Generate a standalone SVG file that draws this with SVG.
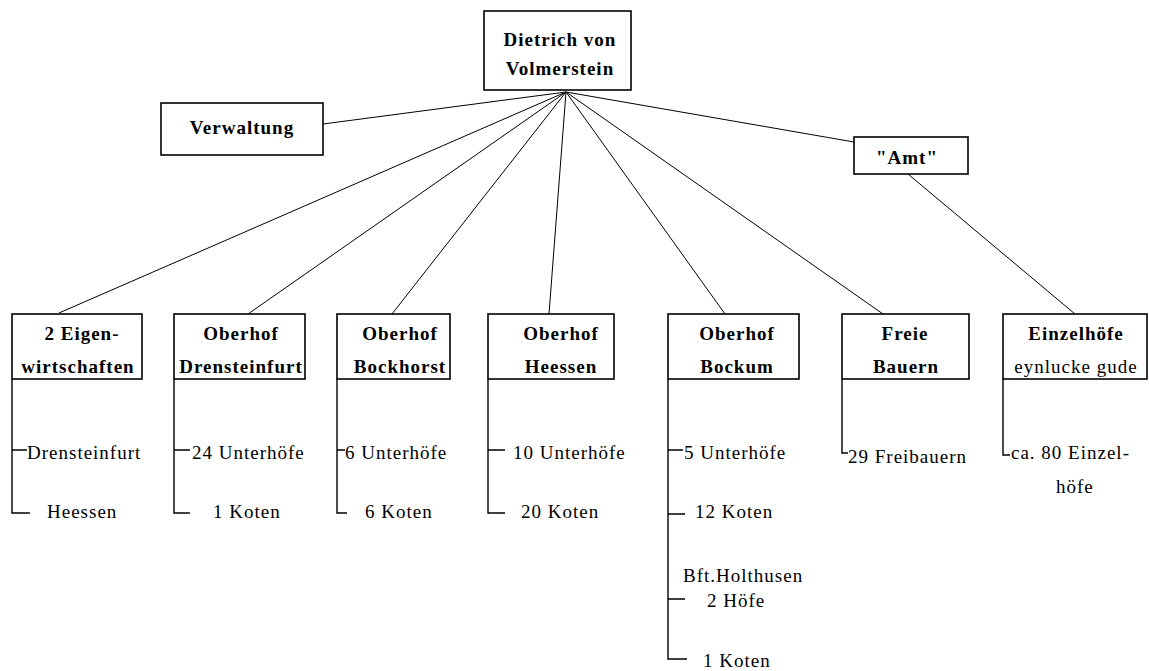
<svg xmlns="http://www.w3.org/2000/svg" width="1149" height="671" viewBox="0 0 1149 671">
<style>
text{font-family:"Liberation Serif","Times New Roman",serif;font-size:19px;letter-spacing:1px;fill:#000}
.b{font-weight:bold}
.c{text-anchor:middle}
.box{fill:#fff;stroke:#000;stroke-width:1.6}
.ln{stroke:#000;stroke-width:1;fill:none}
.br{stroke:#000;stroke-width:1.4;fill:none}
</style>
<rect width="1149" height="671" fill="#fff"/>
<g id="connectors">
<line class="ln" x1="566" y1="92" x2="323" y2="124"/>
<line class="ln" x1="566" y1="92" x2="854" y2="142"/>
<line class="ln" x1="566" y1="92" x2="59" y2="313"/>
<line class="ln" x1="566" y1="92" x2="248" y2="314"/>
<line class="ln" x1="566" y1="92" x2="392" y2="314"/>
<line class="ln" x1="566" y1="92" x2="549" y2="314"/>
<line class="ln" x1="566" y1="92" x2="725" y2="314"/>
<line class="ln" x1="566" y1="92" x2="883" y2="314"/>
<line class="ln" x1="908" y1="174" x2="1075" y2="314"/>
</g>
<g id="top">
<rect class="box" x="484" y="11" width="147" height="79"/>
<text class="b c" x="560" y="46">Dietrich von</text>
<text class="b c" x="560" y="75">Volmerstein</text>
</g>
<g id="verwaltung">
<rect class="box" x="161" y="103" width="162" height="52"/>
<text class="b c" x="242" y="134">Verwaltung</text>
</g>
<g id="amt">
<rect class="box" x="854" y="137" width="114" height="37"/>
<text class="b c" x="907" y="164">"Amt"</text>
</g>
<g id="eigen">
<rect class="box" x="12" y="314" width="130" height="65"/>
<text class="b c" x="82" y="340">2 Eigen-</text>
<text class="b c" x="78" y="373">wirtschaften</text>
<path class="br" d="M12 379V513H30M12 450H27"/>
<text x="27" y="459">Drensteinfurt</text>
<text x="47" y="518">Heessen</text>
</g>
<g id="drensteinfurt">
<rect class="box" x="174" y="314" width="131" height="65"/>
<text class="b c" x="241" y="340">Oberhof</text>
<text class="b c" x="241" y="373">Drensteinfurt</text>
<path class="br" d="M174 379V513H190M174 450H190"/>
<text x="192" y="459">24 Unterhöfe</text>
<text x="213" y="518">1 Koten</text>
</g>
<g id="bockhorst">
<rect class="box" x="337" y="314" width="113" height="65"/>
<text class="b c" x="400" y="340">Oberhof</text>
<text class="b c" x="400" y="373">Bockhorst</text>
<path class="br" d="M337 379V513H347M337 450H345"/>
<text x="345" y="459">6 Unterhöfe</text>
<text x="365" y="518">6 Koten</text>
</g>
<g id="heessen">
<rect class="box" x="488" y="314" width="126" height="65"/>
<text class="b c" x="561" y="340">Oberhof</text>
<text class="b c" x="561" y="373">Heessen</text>
<path class="br" d="M488 379V513H505M488 450H505"/>
<text x="513" y="459">10 Unterhöfe</text>
<text x="521" y="518">20 Koten</text>
</g>
<g id="bockum">
<rect class="box" x="668" y="314" width="131" height="65"/>
<text class="b c" x="737" y="340">Oberhof</text>
<text class="b c" x="737" y="373">Bockum</text>
<path class="br" d="M668 379V659H687M668 450H683M668 514H685M668 599H685"/>
<text x="684" y="459">5 Unterhöfe</text>
<text x="695" y="518">12 Koten</text>
<text x="683" y="582">Bft.Holthusen</text>
<text x="707" y="607">2 Höfe</text>
<text x="703" y="667">1 Koten</text>
</g>
<g id="freie">
<rect class="box" x="842" y="314" width="127" height="65"/>
<text class="b c" x="905" y="340">Freie</text>
<text class="b c" x="906" y="373">Bauern</text>
<path class="br" d="M842 379V453H848"/>
<text x="848" y="463">29 Freibauern</text>
</g>
<g id="einzel">
<rect class="box" x="1003" y="314" width="144" height="65"/>
<text class="b c" x="1076" y="340">Einzelhöfe</text>
<text class="c" x="1076" y="373">eynlucke gude</text>
<path class="br" d="M1003 379V455H1010"/>
<text x="1011" y="459">ca. 80 Einzel-</text>
<text x="1056" y="493">höfe</text>
</g>
</svg>
